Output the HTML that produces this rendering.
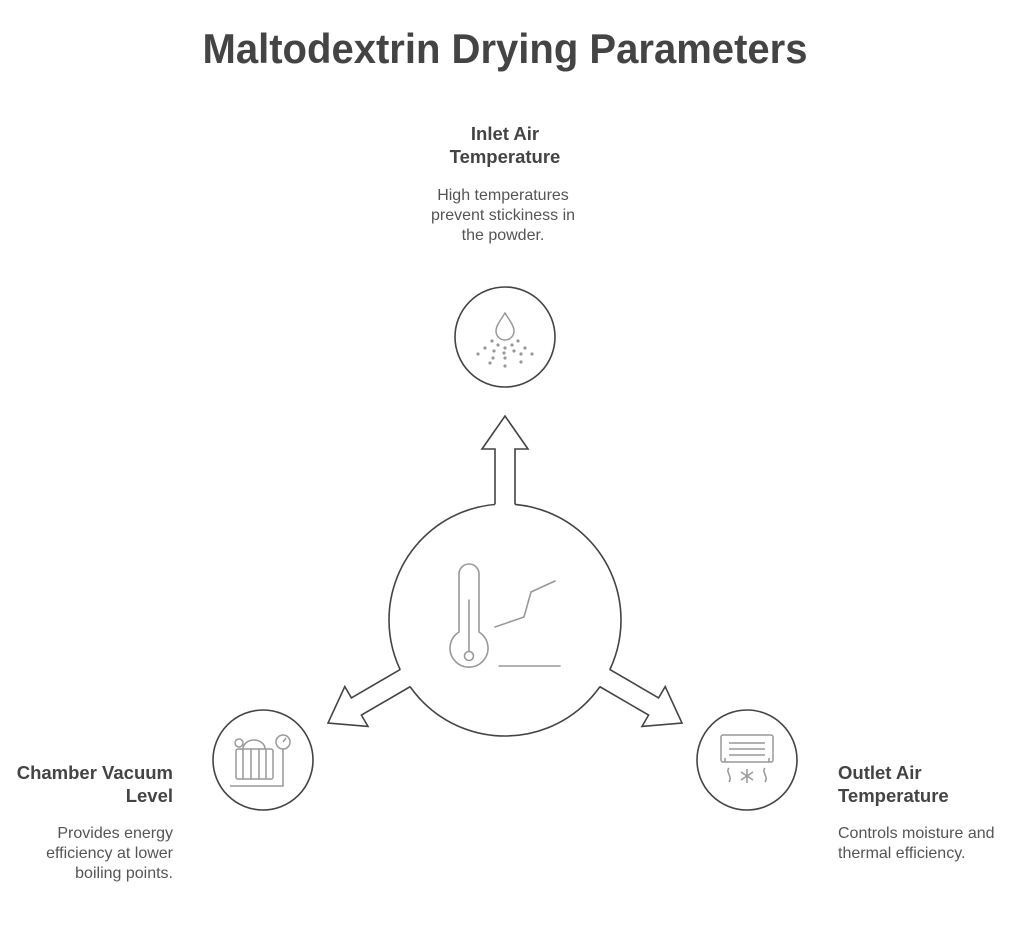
<!DOCTYPE html>
<html><head><meta charset="utf-8"><style>
html,body{margin:0;padding:0;background:#fff;}
svg{display:block}
text{font-family:"Liberation Sans",Arial,sans-serif;}
.t{font-weight:bold;font-size:18.5px;fill:#444;}
.d{font-size:16px;fill:#555;}
</style></head><body>
<svg width="1024" height="945" viewBox="0 0 1024 945" xmlns="http://www.w3.org/2000/svg">
<text x="505" y="63" text-anchor="middle" font-size="42" font-weight="bold" fill="#444" textLength="605" lengthAdjust="spacingAndGlyphs">Maltodextrin Drying Parameters</text>

<circle cx="505" cy="620" r="116" fill="#fff" stroke="#444" stroke-width="1.6"/>
<g fill="#fff" stroke="none">
<polygon points="495,520 495,449 482,449 505,416 528,449 515,449 515,520"/>
<polygon points="415,684 361.4,715.1 368,726.4 328,723 344.8,686.6 351.4,697.9 405,666.6"/>
<polygon points="595,684 648.6,715.1 642,726.4 682,723 665.2,686.6 658.6,697.9 605,666.6"/>
</g>
<g fill="none" stroke="#444" stroke-width="1.6" stroke-linejoin="miter">
<polyline points="495,504.4 495,449 482,449 505,416 528,449 515,449 515,504.4"/>
<polyline points="410.5,686.5 361.4,715.1 368,726.4 328,723 344.8,686.6 351.4,697.9 400.5,669.3"/>
<polyline points="599.5,686.5 648.6,715.1 642,726.4 682,723 665.2,686.6 658.6,697.9 609.5,669.3"/>
</g>

<g fill="none" stroke="#999" stroke-width="1.6" stroke-linecap="round">
<path d="M459,632 V574 a10,10 0 0 1 20,0 V632 a19,19 0 1 1 -20,0 Z"/>
<line x1="469" y1="600" x2="469" y2="651"/>
<circle cx="469" cy="656" r="4.5"/>
<polyline points="495,627 524,617 531,592 555,581"/>
<line x1="499" y1="666" x2="560" y2="666"/>
</g>

<circle cx="505" cy="337" r="50" fill="#fff" stroke="#444" stroke-width="1.6"/>
<circle cx="263" cy="760" r="50" fill="#fff" stroke="#444" stroke-width="1.6"/>
<circle cx="747" cy="760" r="50" fill="#fff" stroke="#444" stroke-width="1.6"/>

<g fill="#999">
<path d="M505,313 C510,321 514,326 514,331 a9,9 0 0 1 -18,0 C496,326 500,321 505,313 Z" fill="none" stroke="#999" stroke-width="1.5"/>
<circle cx="492" cy="341" r="1.6"/><circle cx="498" cy="345" r="1.6"/><circle cx="505" cy="348" r="1.6"/><circle cx="512" cy="345" r="1.6"/><circle cx="518" cy="341" r="1.6"/>
<circle cx="485" cy="348" r="1.6"/><circle cx="494" cy="351" r="1.6"/><circle cx="504" cy="353" r="1.6"/><circle cx="514" cy="351" r="1.6"/><circle cx="525" cy="348" r="1.6"/>
<circle cx="478" cy="354" r="1.6"/><circle cx="493" cy="358" r="1.6"/><circle cx="505" cy="358" r="1.6"/><circle cx="521" cy="354" r="1.6"/><circle cx="532" cy="354" r="1.6"/>
<circle cx="490" cy="363" r="1.6"/><circle cx="505" cy="366" r="1.6"/><circle cx="521" cy="362" r="1.6"/>
</g>

<g fill="none" stroke="#999" stroke-width="1.5">
<rect x="236" y="749" width="37" height="30" rx="2"/>
<line x1="243" y1="749" x2="243" y2="779"/><line x1="251" y1="749" x2="251" y2="779"/><line x1="259" y1="749" x2="259" y2="779"/><line x1="266" y1="749" x2="266" y2="779"/>
<path d="M243,749 a11,9 0 0 1 22,0"/>
<ellipse cx="239" cy="743" rx="4" ry="4"/>
<circle cx="283" cy="742" r="7"/>
<line x1="283" y1="742" x2="286" y2="738"/>
<polyline points="283,749 283,786 230,786"/>
</g>

<g fill="none" stroke="#999" stroke-width="1.5">
<rect x="721" y="735" width="52" height="27" rx="2"/>
<line x1="729" y1="743" x2="765" y2="743"/><line x1="729" y1="749" x2="765" y2="749"/><line x1="729" y1="755" x2="765" y2="755"/>
<line x1="725" y1="762" x2="725" y2="758"/><line x1="769" y1="762" x2="769" y2="758"/>
<path d="M729,768 c-4,4 4,8 0,14"/><path d="M765,768 c-4,4 4,8 0,14"/>
<line x1="747" y1="769" x2="747" y2="783"/><line x1="741" y1="772" x2="753" y2="780"/><line x1="753" y1="772" x2="741" y2="780"/>
</g>

<text class="t" x="505" y="140" text-anchor="middle">Inlet Air</text>
<text class="t" x="505" y="163" text-anchor="middle">Temperature</text>
<text class="d" x="503" y="200" text-anchor="middle">High temperatures</text>
<text class="d" x="503" y="220" text-anchor="middle">prevent stickiness in</text>
<text class="d" x="503" y="240" text-anchor="middle">the powder.</text>

<text class="t" x="173" y="779" text-anchor="end">Chamber Vacuum</text>
<text class="t" x="173" y="802" text-anchor="end">Level</text>
<text class="d" x="173" y="838" text-anchor="end">Provides energy</text>
<text class="d" x="173" y="858" text-anchor="end">efficiency at lower</text>
<text class="d" x="173" y="878" text-anchor="end">boiling points.</text>

<text class="t" x="838" y="779">Outlet Air</text>
<text class="t" x="838" y="802">Temperature</text>
<text class="d" x="838" y="838">Controls moisture and</text>
<text class="d" x="838" y="858">thermal efficiency.</text>
</svg>
</body></html>
